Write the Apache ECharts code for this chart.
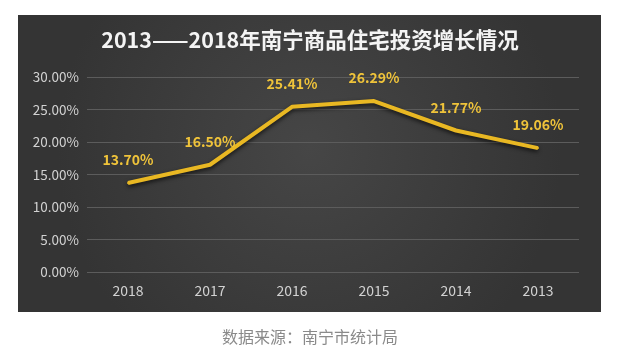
<!DOCTYPE html>
<html>
<head>
<meta charset="utf-8">
<script src="https://cdn.jsdelivr.net/npm/echarts@6/dist/echarts.min.js"></script>
<style>
html,body{margin:0;padding:0;background:#fff;}
#c{width:620px;height:358px;}
</style>
</head>
<body>
<div id="c"></div>
<script>
var categories = ['2018', '2017', '2016', '2015', '2014', '2013'];
var growth = [13.70, 16.50, 25.41, 26.29, 21.77, 19.06];
var titleText = '2013——2018年南宁商品住宅投资增长情况';
var sourceText = '数据来源：南宁市统计局';

var chart = echarts.init(document.getElementById('c'), null, {renderer: 'canvas'});
var fontFam = '"Noto Sans CJK SC", "Noto Sans", sans-serif';
chart.setOption({
  backgroundColor: '#ffffff',
  animation: false,
  graphic: [
    {
      type: 'rect', z: -10, silent: true,
      shape: {x: 18, y: 15, width: 583, height: 297},
      style: {
        fill: new echarts.graphic.RadialGradient(0.5, 0.45, 0.85, [
          {offset: 0, color: '#464646'},
          {offset: 1, color: '#343434'}
        ])
      }
    },
    {
      type: 'text', left: 'center', top: 329, silent: true,
      style: {text: sourceText, fill: '#8a8a8a', font: '16px ' + fontFam}
    }
  ],
  title: {
    text: titleText,
    left: 'center',
    top: 24,
    textStyle: {color: '#f4f4f4', fontSize: 21.5, fontWeight: 'bold', fontFamily: fontFam}
  },
  grid: {left: 87, right: 41, top: 77, bottom: 86},
  xAxis: {
    type: 'category',
    data: categories,
    boundaryGap: true,
    axisLine: {show: false},
    axisTick: {show: false},
    axisLabel: {color: '#d2d2d2', fontSize: 14, margin: 12, fontFamily: fontFam}
  },
  yAxis: {
    type: 'value',
    min: 0, max: 30, interval: 5,
    axisLine: {show: false},
    axisTick: {show: false},
    splitLine: {lineStyle: {color: '#5c5c5c', width: 1}},
    axisLabel: {
      color: '#d2d2d2', fontSize: 13.5, margin: 8, fontFamily: fontFam,
      formatter: function (v) { return v.toFixed(2) + '%'; }
    }
  },
  series: [{
    type: 'line',
    data: growth,
    symbol: 'circle',
    symbolSize: 2,
    showSymbol: true,
    itemStyle: {color: '#e9b823'},
    lineStyle: {
      color: '#e9b823', width: 4,
      shadowColor: 'rgba(0,0,0,0.7)', shadowBlur: 4, shadowOffsetY: 2
    },
    label: {
      show: true,
      position: 'top',
      distance: 15,
      color: '#efc33a',
      fontSize: 14,
      fontWeight: 'bold',
      fontFamily: fontFam,
      formatter: function (p) { return p.value.toFixed(2) + '%'; }
    }
  }]
});
</script>
</body>
</html>
